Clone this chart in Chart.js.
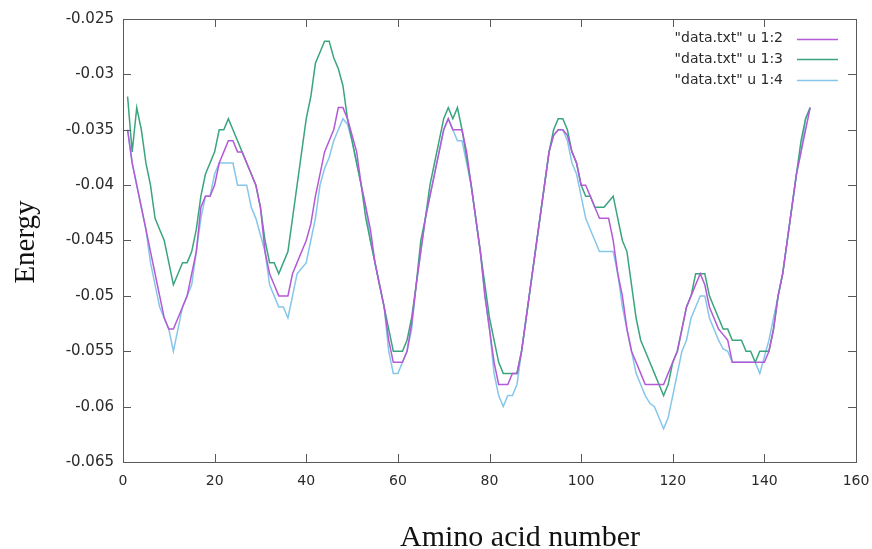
<!DOCTYPE html>
<html><head><meta charset="utf-8">
<script src="https://cdn.jsdelivr.net/npm/chart.js@4.4.1/dist/chart.umd.min.js"></script>
<style>html,body{margin:0;padding:0;background:#fff;}#wrap{width:872px;height:549px;}</style>
</head><body><div id="wrap"><canvas id="c" width="872" height="549"></canvas></div>
<script>
const aminoAcidNumber = [
 1,2,3,4,5,6,7,8,9,10,11,12,13,14,15,16,17,18,19,20,
 21,22,23,24,25,26,27,28,29,30,31,32,33,34,35,36,37,38,39,40,
 41,42,43,44,45,46,47,48,49,50,51,52,53,54,55,56,57,58,59,60,
 61,62,63,64,65,66,67,68,69,70,71,72,73,74,75,76,77,78,79,80,
 81,82,83,84,85,86,87,88,89,90,91,92,93,94,95,96,97,98,99,100,
 101,102,103,104,105,106,107,108,109,110,111,112,113,114,115,116,117,118,119,120,
 121,122,123,124,125,126,127,128,129,130,131,132,133,134,135,136,137,138,139,140,
 141,142,143,144,145,146,147,148,149,150];

const energy12 = [
 -0.035,-0.038,-0.040,-0.042,-0.044,-0.046,-0.048,-0.050,-0.052,-0.053,
 -0.053,-0.052,-0.051,-0.050,-0.048,-0.046,-0.042,-0.041,-0.041,-0.040,
 -0.038,-0.037,-0.036,-0.036,-0.037,-0.037,-0.038,-0.039,-0.040,-0.042,
 -0.046,-0.048,-0.049,-0.050,-0.050,-0.050,-0.048,-0.047,-0.046,-0.045,
 -0.0435,-0.041,-0.039,-0.037,-0.036,-0.035,-0.033,-0.033,-0.034,-0.0355,
 -0.037,-0.040,-0.042,-0.044,-0.047,-0.049,-0.051,-0.054,-0.056,-0.056,
 -0.056,-0.055,-0.0525,-0.049,-0.046,-0.043,-0.041,-0.039,-0.037,-0.035,
 -0.034,-0.035,-0.035,-0.035,-0.037,-0.040,-0.043,-0.046,-0.050,-0.053,
 -0.056,-0.058,-0.058,-0.058,-0.057,-0.057,-0.055,-0.052,-0.049,-0.046,
 -0.043,-0.040,-0.037,-0.0355,-0.035,-0.035,-0.0355,-0.037,-0.038,-0.040,
 -0.040,-0.041,-0.042,-0.043,-0.043,-0.043,-0.045,-0.048,-0.050,-0.053,
 -0.055,-0.056,-0.057,-0.058,-0.058,-0.058,-0.058,-0.058,-0.057,-0.056,
 -0.055,-0.053,-0.051,-0.050,-0.049,-0.048,-0.049,-0.051,-0.052,-0.053,
 -0.0535,-0.054,-0.056,-0.056,-0.056,-0.056,-0.056,-0.056,-0.056,-0.056,
 -0.055,-0.053,-0.050,-0.048,-0.045,-0.042,-0.039,-0.037,-0.035,-0.033];

const energy13 = [
 -0.032,-0.037,-0.033,-0.035,-0.038,-0.040,-0.043,-0.044,-0.045,-0.047,
 -0.049,-0.048,-0.047,-0.047,-0.046,-0.044,-0.041,-0.039,-0.038,-0.037,
 -0.035,-0.035,-0.034,-0.035,-0.036,-0.037,-0.038,-0.039,-0.040,-0.042,
 -0.045,-0.047,-0.047,-0.048,-0.047,-0.046,-0.043,-0.040,-0.037,-0.034,
 -0.032,-0.029,-0.028,-0.027,-0.027,-0.0285,-0.0295,-0.031,-0.034,-0.036,
 -0.038,-0.040,-0.043,-0.045,-0.047,-0.049,-0.051,-0.053,-0.055,-0.055,
 -0.055,-0.054,-0.052,-0.049,-0.045,-0.043,-0.040,-0.038,-0.036,-0.034,
 -0.033,-0.034,-0.033,-0.035,-0.0375,-0.040,-0.043,-0.046,-0.049,-0.052,
 -0.054,-0.056,-0.057,-0.057,-0.057,-0.057,-0.055,-0.052,-0.049,-0.046,
 -0.043,-0.040,-0.037,-0.035,-0.034,-0.034,-0.035,-0.037,-0.038,-0.040,
 -0.041,-0.041,-0.042,-0.042,-0.042,-0.0415,-0.041,-0.043,-0.045,-0.046,
 -0.049,-0.052,-0.054,-0.055,-0.056,-0.057,-0.058,-0.059,-0.058,-0.056,
 -0.055,-0.053,-0.051,-0.050,-0.048,-0.048,-0.048,-0.050,-0.051,-0.052,
 -0.053,-0.053,-0.054,-0.054,-0.054,-0.055,-0.055,-0.056,-0.055,-0.055,
 -0.055,-0.053,-0.050,-0.048,-0.045,-0.042,-0.039,-0.036,-0.034,-0.033];

const energy14 = [
 -0.035,-0.038,-0.040,-0.042,-0.044,-0.047,-0.049,-0.051,-0.052,-0.053,
 -0.055,-0.053,-0.051,-0.050,-0.049,-0.046,-0.043,-0.041,-0.041,-0.039,
 -0.038,-0.038,-0.038,-0.038,-0.040,-0.040,-0.040,-0.042,-0.043,-0.0445,
 -0.046,-0.049,-0.050,-0.051,-0.051,-0.052,-0.050,-0.048,-0.0475,-0.047,
 -0.045,-0.043,-0.040,-0.0385,-0.0375,-0.036,-0.035,-0.034,-0.0345,-0.036,
 -0.038,-0.040,-0.042,-0.045,-0.047,-0.049,-0.051,-0.055,-0.057,-0.057,
 -0.056,-0.055,-0.053,-0.049,-0.046,-0.043,-0.041,-0.039,-0.037,-0.035,
 -0.034,-0.035,-0.036,-0.036,-0.038,-0.040,-0.043,-0.046,-0.050,-0.053,
 -0.057,-0.059,-0.060,-0.059,-0.059,-0.058,-0.055,-0.052,-0.049,-0.046,
 -0.043,-0.040,-0.037,-0.0355,-0.035,-0.035,-0.036,-0.038,-0.039,-0.041,
 -0.043,-0.044,-0.045,-0.046,-0.046,-0.046,-0.046,-0.048,-0.051,-0.053,
 -0.055,-0.057,-0.058,-0.059,-0.0597,-0.060,-0.061,-0.062,-0.061,-0.059,
 -0.057,-0.055,-0.054,-0.052,-0.051,-0.050,-0.050,-0.052,-0.053,-0.054,
 -0.0548,-0.055,-0.056,-0.056,-0.056,-0.056,-0.056,-0.056,-0.057,-0.0555,
 -0.054,-0.052,-0.050,-0.048,-0.045,-0.042,-0.039,-0.037,-0.034,-0.033];

const seriesLabels = ['"data.txt" u 1:2', '"data.txt" u 1:3', '"data.txt" u 1:4'];
const xTickValues = [0, 20, 40, 60, 80, 100, 120, 140, 160];
const xTickLabels = ['0', '20', '40', '60', '80', '100', '120', '140', '160'];
const yTickValues = [-0.065, -0.06, -0.055, -0.05, -0.045, -0.04, -0.035, -0.03, -0.025];
const yTickLabels = ['-0.065', '-0.06', '-0.055', '-0.05', '-0.045', '-0.04', '-0.035', '-0.03', '-0.025'];
const xTitle = 'Amino acid number';
const yTitle = 'Energy';

const colors = ['#b35ad6', '#3aa57d', '#86c6ea'];
const seriesValues = [energy12, energy13, energy14];

const frameColor = '#5a5a5a';

const framePlugin = {
  id: 'frame',
  afterDatasetsDraw(chart) {
    const ctx = chart.ctx, a = chart.chartArea;
    const xs = chart.scales.x, ys = chart.scales.y;
    ctx.save();
    ctx.strokeStyle = frameColor;
    ctx.lineWidth = 1;
    ctx.strokeRect(Math.round(a.left) + 0.5, Math.round(a.top) + 0.5,
                   Math.round(a.right - a.left), Math.round(a.bottom - a.top));
    const tl = 8;
    ctx.beginPath();
    xTickValues.forEach(v => {
      const px = Math.round(xs.getPixelForValue(v)) + 0.5;
      ctx.moveTo(px, a.bottom); ctx.lineTo(px, a.bottom - tl);
      ctx.moveTo(px, a.top); ctx.lineTo(px, a.top + tl);
    });
    yTickValues.forEach(v => {
      const py = Math.round(ys.getPixelForValue(v)) + 0.5;
      ctx.moveTo(a.left, py); ctx.lineTo(a.left + tl, py);
      ctx.moveTo(a.right, py); ctx.lineTo(a.right - tl, py);
    });
    ctx.stroke();
    ctx.restore();
  },
  afterDraw(chart) {
    const ctx = chart.ctx;
    ctx.save();
    // legend
    ctx.font = '14px "DejaVu Sans"';
    ctx.fillStyle = '#2a2a2a';
    ctx.textAlign = 'right';
    ctx.textBaseline = 'middle';
    chart.data.datasets.forEach((ds, i) => {
      const y = 38.5 + i * 20.8;
      ctx.fillText(ds.label, 783, y);
      ctx.strokeStyle = ds.borderColor;
      ctx.lineWidth = 1.5;
      ctx.beginPath();
      ctx.moveTo(797, Math.round(y) + 0.5);
      ctx.lineTo(838, Math.round(y) + 0.5);
      ctx.stroke();
    });
    // axis titles
    ctx.fillStyle = '#111';
    ctx.font = '30px "Liberation Serif"';
    ctx.textAlign = 'center';
    ctx.textBaseline = 'alphabetic';
    ctx.fillText(xTitle, 520, 546);
    ctx.font = '29px "Liberation Serif"';
    ctx.translate(34, 242);
    ctx.rotate(-Math.PI / 2);
    ctx.fillText(yTitle, 0, 0);
    ctx.restore();
  }
};

new Chart(document.getElementById('c'), {
  type: 'line',
  data: {
    labels: aminoAcidNumber,
    datasets: seriesValues.map((vals, i) => ({
      label: seriesLabels[i],
      data: aminoAcidNumber.map((x, j) => ({ x: x, y: vals[j] })),
      borderColor: colors[i],
      borderWidth: 1.5,
      pointRadius: 0,
      tension: 0,
      fill: false
    }))
  },
  options: {
    responsive: false,
    animation: false,
    devicePixelRatio: 1,
    layout: { padding: { left: 0, top: 19, right: 16, bottom: 0 } },
    plugins: { legend: { display: false }, tooltip: { enabled: false } },
    scales: {
      x: {
        type: 'linear', min: 0, max: 160,
        afterBuildTicks: s => { s.ticks = xTickValues.map(v => ({ value: v })); },
        afterFit: s => { s.height = 87; s.paddingLeft = 0; s.paddingRight = 0; },
        grid: { display: false, drawTicks: false },
        border: { display: false },
        ticks: {
          autoSkip: false, maxRotation: 0, padding: 11,
          color: '#2a2a2a', font: { family: 'DejaVu Sans', size: 14 },
          callback: v => xTickLabels[xTickValues.indexOf(v)]
        }
      },
      y: {
        type: 'linear', min: -0.065, max: -0.025,
        afterBuildTicks: s => { s.ticks = yTickValues.map(v => ({ value: v })); },
        afterFit: s => { s.width = 123; s.paddingTop = 0; s.paddingBottom = 0; },
        grid: { display: false, drawTicks: false },
        border: { display: false },
        ticks: {
          autoSkip: false, padding: 9,
          color: '#2a2a2a', font: { family: 'DejaVu Sans', size: 15 },
          callback: (v, idx) => yTickLabels[idx]
        }
      }
    }
  },
  plugins: [framePlugin]
});
</script></body></html>
